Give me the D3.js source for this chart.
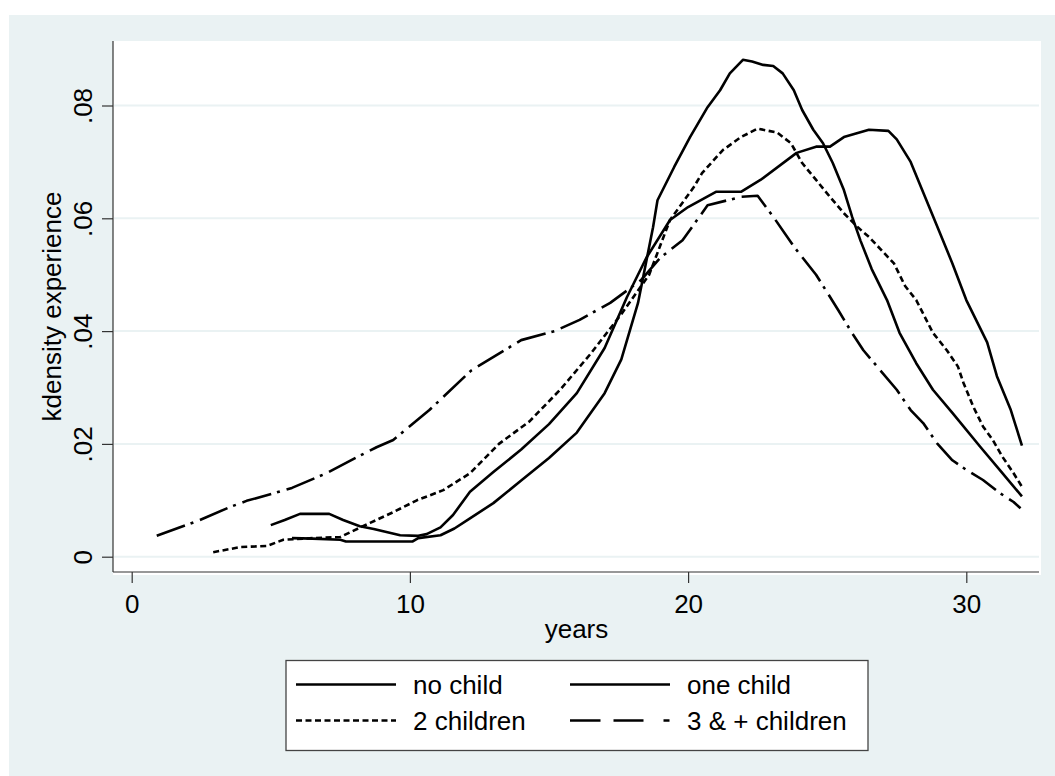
<!DOCTYPE html>
<html>
<head>
<meta charset="utf-8">
<title>kdensity experience</title>
<script src="https://cdn.jsdelivr.net/npm/d3@7/dist/d3.min.js"></script>
<style>
  body { margin: 0; background: #fff; }
  text { font-family: "Liberation Sans", Arial, sans-serif; fill: #000; }
</style>
</head>
<body>
<div id="chart"></div>
<script>
// density curves: [years, density]
var noChild = [[5.76,.0033],[6.5,.0032],[7.5,.0030],[7.7,.0027],[10.1,.0027],[10.3,.0033],[11.1,.0038],[11.6,.0050],
  [12.16,.0068],[13,.0095],[14,.0135],[15,.0175],[16,.022],[17,.029],[17.6,.035],[18.2,.045],[18.74,.0584],[18.9,.0632],
  [19.5,.0691],[20.07,.0744],[20.7,.0797],[21.15,.0827],[21.5,.0857],[21.97,.0881],[22.3,.0878],[22.7,.0872],[23.06,.087],
  [23.4,.0857],[23.8,.0827],[24.1,.0792],[24.5,.0757],[24.85,.0733],[25.2,.0698],[25.6,.065],[25.9,.0602],[26.2,.056],
  [26.6,.051],[27.15,.0455],[27.6,.0397],[28.2,.0343],[28.8,.0296],[29.5,.0255],[30.5,.0195],[31.2,.0154],[32,.0107]];

var oneChild = [[5.0,.0056],[5.5,.0065],[6.05,.0076],[7.1,.0076],[7.6,.0065],[8.2,.0054],[8.7,.0049],[9.65,.0038],
  [10.3,.0037],[10.6,.0040],[11.1,.0052],[11.55,.0074],[12.16,.0115],[13,.015],[14,.019],[15,.0235],[16,.029],[17,.037],
  [17.8,.046],[18.5,.053],[19.35,.0597],[20,.062],[21.0,.0647],[21.9,.0647],[22.6,.0668],[23.9,.0716],[24.6,.0727],
  [25.1,.0727],[25.6,.0744],[26.5,.0757],[27.2,.0755],[27.5,.074],[28,.070],[28.5,.064],[29,.058],[29.5,.052],[30,.0455],
  [30.75,.038],[31.1,.032],[31.6,.026],[32,.0197]];

var twoChildren = [[2.93,.0008],[3.9,.0017],[4.86,.0019],[5.45,.003],[6.5,.0033],[7.5,.0035],[8.57,.006],[9.4,.0079],
  [10.25,.010],[11.2,.0118],[12.16,.0148],[13.2,.020],[14.3,.024],[15.4,.0296],[16.5,.036],[17.6,.043],[18.6,.050],
  [19.35,.0597],[20.2,.0655],[20.5,.068],[21.25,.0721],[21.9,.0744],[22.5,.0759],[23.2,.0752],[23.7,.0733],[24.1,.0698],
  [24.6,.0668],[25.1,.0638],[25.6,.0609],[26.1,.0584],[26.5,.0567],[27.4,.052],[27.8,.048],[28.2,.0455],[28.8,.0397],
  [29.3,.0366],[29.7,.0337],[29.9,.0308],[30.25,.0266],[30.6,.0231],[30.95,.0207],[31.3,.0177],[31.7,.0148],[32,.0124]];

var threePlus = [[0.9,.0037],[2.45,.0065],[3.53,.0088],[4.13,.0099],[5.15,.0113],[5.76,.0122],[7.0,.0148],[8.2,.0179],
  [8.8,.0194],[9.4,.0207],[10.7,.026],[12.2,.033],[14.0,.0384],[15.2,.040],[16.1,.042],[17.2,.045],[18.3,.049],[19.0,.053],
  [19.8,.0561],[20.7,.0623],[21.9,.0638],[22.5,.064],[23.1,.060],[23.8,.055],[24.6,.050],[25.4,.0437],[25.9,.0396],
  [26.3,.0366],[26.9,.0331],[27.5,.0296],[28.0,.026],[28.45,.0237],[28.95,.0201],[29.5,.0171],[30.0,.0154],[30.6,.0136],
  [31.2,.0113],[31.7,.0097],[31.95,.0086]];

var xTicks = [0, 10, 20, 30];
var yTicks = [0, .02, .04, .06, .08];
var yTickLabels = ["0", ".02", ".04", ".06", ".08"];
var seriesNames = ["no child", "one child", "2 children", "3 & + children"];

var W = 1055, H = 776;
var plot = {left: 113, top: 41, right: 1041, bottom: 575};
var axisY = 572;

var svg = d3.select("#chart").append("svg")
  .attr("width", W).attr("height", H);

// graph region + plot region
svg.append("rect").attr("x", 9).attr("y", 15).attr("width", W - 9).attr("height", H - 15).attr("fill", "#eaf2f3");
svg.append("rect").attr("x", plot.left).attr("y", plot.top)
  .attr("width", plot.right - plot.left).attr("height", plot.bottom - plot.top).attr("fill", "#fff");

var x = d3.scaleLinear().domain([0, 30]).range([131.7, 966.3]);
var y = d3.scaleLinear().domain([0, .08]).range([556.7, 105.5]);

// gridlines
svg.append("g").selectAll("line").data(yTicks).enter().append("line")
  .attr("x1", plot.left + 1).attr("x2", 1039)
  .attr("y1", function(d) { return y(d); }).attr("y2", function(d) { return y(d); })
  .attr("stroke", "#eaf2f3").attr("stroke-width", 2);

// curves
var line = d3.line().x(function(d) { return x(d[0]); }).y(function(d) { return y(d[1]); });
var curves = [
  {data: noChild, dash: null},
  {data: oneChild, dash: null},
  {data: twoChildren, dash: "6,3.5"},
  {data: threePlus, dash: "30,6,3,7"}
];
svg.append("g").selectAll("path").data(curves).enter().append("path")
  .attr("d", function(d) { return line(d.data); })
  .attr("fill", "none").attr("stroke", "#000").attr("stroke-width", 2.6)
  .attr("stroke-linejoin", "round")
  .attr("stroke-dasharray", function(d) { return d.dash; });

// y axis
var yAxis = svg.append("g").attr("transform", "translate(" + plot.left + ",0)")
  .call(d3.axisLeft(y).tickValues(yTicks).tickSize(11).tickFormat(function(d, i) { return yTickLabels[i]; }));
yAxis.select(".domain").attr("d", "M0," + plot.top + "V" + axisY).attr("stroke", "#333").attr("stroke-width", 1.2);
yAxis.selectAll(".tick line").attr("stroke", "#333").attr("stroke-width", 1.2);
yAxis.selectAll(".tick text")
  .attr("x", null).attr("dy", null)
  .attr("text-anchor", "middle")
  .attr("transform", "translate(-21,0) rotate(-90)")
  .style("font-size", "26px").style("font-family", "Liberation Sans, Arial, sans-serif").attr("fill", "#000");

// x axis
var xAxis = svg.append("g").attr("transform", "translate(0," + axisY + ")")
  .call(d3.axisBottom(x).tickValues(xTicks).tickSize(11).tickFormat(d3.format("d")));
xAxis.select(".domain").attr("d", "M" + plot.left + ",0H1039").attr("stroke", "#333").attr("stroke-width", 1.2);
xAxis.selectAll(".tick line").attr("stroke", "#333").attr("stroke-width", 1.2);
xAxis.selectAll(".tick text").attr("y", 41).attr("dy", null)
  .style("font-size", "26px").style("font-family", "Liberation Sans, Arial, sans-serif").attr("fill", "#000");

// axis titles
svg.append("text").attr("x", 576.5).attr("y", 638).attr("text-anchor", "middle")
  .style("font-size", "26px").text("years");
svg.append("text").attr("transform", "translate(61,306.5) rotate(-90)").attr("text-anchor", "middle")
  .style("font-size", "26px").text("kdensity experience");

// legend
var legend = svg.append("g");
legend.append("rect").attr("x", 286).attr("y", 660.5).attr("width", 582).attr("height", 90)
  .attr("fill", "#fff").attr("stroke", "#444").attr("stroke-width", 1.3);
var legendDash = [null, null, "6,3.5", "30.5,13,30,20,6,20"];
var cols = [296, 570], rows = [684.5, 720.5];
seriesNames.forEach(function(name, i) {
  var cx = cols[i % 2], cy = rows[Math.floor(i / 2)];
  legend.append("line").attr("x1", cx).attr("x2", cx + 100).attr("y1", cy).attr("y2", cy)
    .attr("stroke", "#000").attr("stroke-width", 2.6).attr("stroke-dasharray", legendDash[i]);
  legend.append("text").attr("x", cx + 117).attr("y", cy + 9.5)
    .style("font-size", "26px").text(name);
});
</script>
</body>
</html>
